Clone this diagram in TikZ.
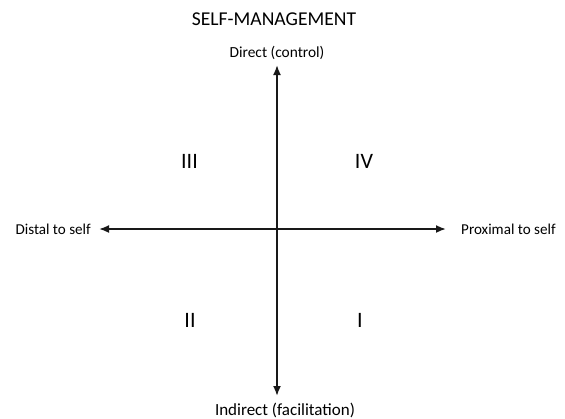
\documentclass[tikz,border=0pt]{standalone}
\usepackage{fontspec}
\setmainfont{Carlito}
\usetikzlibrary{arrows.meta}
\begin{document}
\begin{tikzpicture}[x=1bp,y=-1bp,
  axis/.style={line width=1.8bp,black!90,{Latex[length=10bp,width=8bp]}-{Latex[length=10bp,width=8bp]}},
  axislabel/.style={inner sep=0pt,font=\fontsize{15.1bp}{18bp}\selectfont},
  quadrant/.style={inner sep=0pt,font=\fontsize{22bp}{26bp}\selectfont},
  heading/.style={inner sep=0pt,font=\fontsize{19.6bp}{23bp}\selectfont}]
\useasboundingbox (0,0) rectangle (565,418);
% axis end points
\coordinate (top) at (277,65);
\coordinate (bottom) at (277,396);
\coordinate (left) at (99,229);
\coordinate (right) at (446,229);
% title and axis labels
\node[heading] (title) at (274,19) {SELF-MANAGEMENT};
\node[axislabel,font=\fontsize{15.4bp}{18bp}\selectfont] (direct) at (277,53) {Direct (control)};
\node[axislabel,font=\fontsize{17bp}{20bp}\selectfont] (indirect) at (285,410) {Indirect (facilitation)};
\node[axislabel,anchor=east] (distal) at (91,229) {Distal to self};
\node[axislabel,anchor=west] (proximal) at (461,229) {Proximal to self};
% axes
\draw[axis] (top) -- (bottom);
\draw[axis] (left) -- (right);
% quadrant numbers
\node[quadrant] (q3) at (189.5,161) {III};
\node[quadrant] (q4) at (364,161) {IV};
\node[quadrant] (q2) at (190,320) {II};
\node[quadrant] (q1) at (360,320) {I};
\end{tikzpicture}
\end{document}
